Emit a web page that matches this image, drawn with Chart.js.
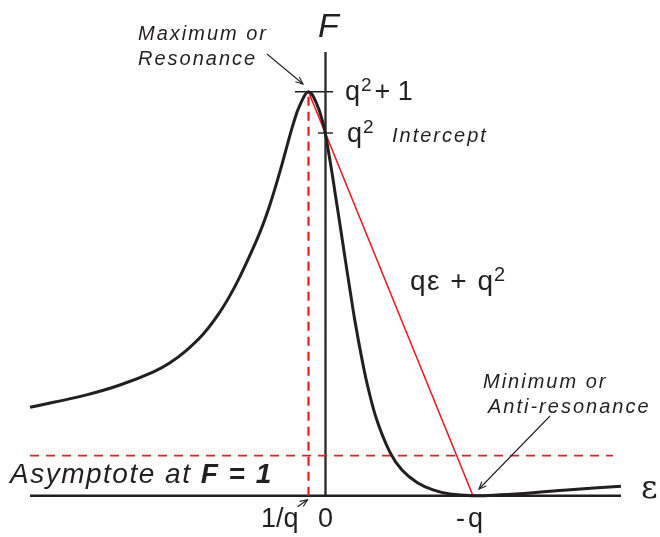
<!DOCTYPE html>
<html>
<head>
<meta charset="utf-8">
<script src="https://cdn.jsdelivr.net/npm/chart.js@4.4.1/dist/chart.umd.min.js"></script>
<style>
  body { margin: 0; background: #fff; }
  #wrap { width: 660px; height: 537px; position: relative; }
</style>
</head>
<body>
<div id="wrap"><canvas id="grafico"></canvas></div>
<script>
// Curva de Fano (eps, F)
const epsCurva = [-5.90, -5.43, -4.77, -4.10, -3.43, -3.10, -2.77, -2.43, -2.10, -1.83, -1.57, -1.30, -1.10,
                  -0.90, -0.77, -0.63, -0.50, -0.33, -0.17, -0.04, 0.02, 0.06, 0.14, 0.20, 0.30, 0.40, 0.50,
                  0.60, 0.74, 0.86, 1.04, 1.30, 1.54, 1.84, 2.16, 2.50, 2.96, 3.50, 4.16, 4.84, 5.92];
const fCurva = [2.14, 2.26, 2.44, 2.68, 3.00, 3.22, 3.52, 3.92, 4.45, 5.00, 5.64, 6.38, 7.05,
                7.85, 8.42, 9.02, 9.46, 9.78, 9.50, 9.02, 8.68, 8.40, 7.82, 7.34, 6.56, 5.76, 4.98,
                4.22, 3.30, 2.62, 1.82, 1.05, 0.62, 0.32, 0.14, 0.04, 0.00, 0.02, 0.07, 0.14, 0.23];

// Pontos notáveis
const epsMax = -0.33;      // 1/q
const epsMin = 2.96;       // -q
const fMax = 9.78;         // q^2 + 1
const fIntercept = 8.78;   // q^2
const fAssintota = 0.97;   // F = 1
const epsInicio = -5.90;
const epsFim = 5.92;
const fTopoEixo = 10.74;

// Rótulos do eixo x
const xTicks = [epsMax, 0, epsMin];
const xTickLabels = ['1/q', '0', '- q'];

const preto = '#231f20';
const vermelho = '#ed1c24';

const pontosCurva = epsCurva.map((e, i) => ({ x: e, y: fCurva[i] }));

// Textos e setas
const textos = {
    id: 'textos',
    afterDatasetsDraw(chart) {
        const ctx = chart.ctx;
        const xs = chart.scales.x;
        const ys = chart.scales.y;
        const fam = '"Liberation Sans", Arial, sans-serif';
        ctx.save();
        ctx.fillStyle = preto;
        ctx.strokeStyle = preto;
        ctx.textBaseline = 'alphabetic';
        ctx.textAlign = 'left';

        function texto(t, x, y, font, esp) {
            ctx.font = font;
            ctx.letterSpacing = (esp || 0) + 'px';
            ctx.fillText(t, x, y);
            const w = ctx.measureText(t).width;
            ctx.letterSpacing = '0px';
            return w;
        }
        function qQuadrado(x, y, size) {
            const w1 = texto('q', x, y, size + 'px ' + fam);
            const w2 = texto('2', x + w1 + 1, y - 9, Math.round(size * 0.72) + 'px ' + fam);
            return w1 + 1 + w2;
        }
        function seta(x1, y1, x2, y2) {
            ctx.lineWidth = 1.1;
            ctx.beginPath();
            ctx.moveTo(x1, y1);
            ctx.lineTo(x2, y2);
            ctx.stroke();
            const a = Math.atan2(y2 - y1, x2 - x1);
            const L = 8;
            ctx.beginPath();
            ctx.moveTo(x2 - L * Math.cos(a - 0.4), y2 - L * Math.sin(a - 0.4));
            ctx.lineTo(x2, y2);
            ctx.lineTo(x2 - L * Math.cos(a + 0.4), y2 - L * Math.sin(a + 0.4));
            ctx.stroke();
        }

        // F e epsilon
        texto('F', 318, 37, 'italic 34px ' + fam);
        texto('\u03B5', 641, 498, '32px "DejaVu Serif", serif');

        // q^2 + 1 e q^2 Intercept
        let w = qQuadrado(345, 100, 27);
        texto('+ 1', 345 + w + 3, 100, '27px ' + fam);
        qQuadrado(347, 142, 27);
        texto('Intercept', 392, 142, 'italic 20px ' + fam, 2);

        // q eps + q^2
        w = texto('q\u03B5 + ', 410, 290, '28px ' + fam, 1.5);
        qQuadrado(410 + w, 290, 28);

        // Máximo e mínimo
        texto('Maximum or', 138, 40, 'italic 20px ' + fam, 2);
        texto('Resonance', 138, 65, 'italic 20px ' + fam, 2);
        seta(267, 54, 303, 84);
        texto('Minimum or', 483, 388, 'italic 20px ' + fam, 2);
        texto('Anti-resonance', 488, 413, 'italic 20px ' + fam, 2);
        seta(550, 416, 479, 489);

        // Assíntota
        w = texto('Asymptote at ', 10, 483, 'italic 28px ' + fam, 1.5);
        texto('F = 1', 10 + w, 483, 'italic bold 28px ' + fam, 1.5);

        // Rótulos do eixo x
        ctx.font = '27px ' + fam;
        const base = ys.getPixelForValue(0) + 31;
        const x0 = xs.getPixelForValue(xTicks[0]);
        ctx.textAlign = 'right';
        ctx.fillText(xTickLabels[0], x0 - 10, base);
        ctx.textAlign = 'center';
        ctx.fillText(xTickLabels[1], xs.getPixelForValue(xTicks[1]) + 0.5, base);
        const partes = xTickLabels[2].split(' ');
        const x2 = xs.getPixelForValue(xTicks[2]);
        ctx.textAlign = 'left';
        ctx.fillText(partes[0], x2 - 17, base);
        ctx.fillText(partes[1], x2 - 5, base);
        seta(x0 - 11, base - 20, x0 - 1, base - 27);
        ctx.restore();
    }
};

const ctx = document.getElementById('grafico').getContext('2d');
new Chart(ctx, {
    type: 'line',
    data: {
        datasets: [
            {
                data: pontosCurva,
                borderColor: preto,
                borderWidth: 3,
                tension: 0.4,
                pointRadius: 0
            },
            {
                data: [{ x: epsMax, y: fMax }, { x: epsMin, y: 0 }],
                borderColor: vermelho,
                borderWidth: 1.6,
                pointRadius: 0
            },
            {
                data: [{ x: epsMax, y: 0 }, { x: epsMax, y: fMax }],
                borderColor: vermelho,
                borderWidth: 2.2,
                borderDash: [9, 6],
                pointRadius: 0
            },
            {
                data: [{ x: epsInicio, y: fAssintota }, { x: 5.76, y: fAssintota }],
                borderColor: vermelho,
                borderWidth: 1.6,
                borderDash: [9, 7],
                pointRadius: 0
            },
            {
                data: [{ x: epsInicio, y: 0 }, { x: epsFim, y: 0 }],
                borderColor: preto,
                borderWidth: 2.6,
                pointRadius: 0
            },
            {
                data: [{ x: 0.01, y: 0 }, { x: 0.01, y: fTopoEixo }],
                borderColor: '#2f2f2f',
                borderWidth: 2.4,
                pointRadius: 0
            },
            {
                data: [{ x: -0.60, y: fMax }, { x: 0.16, y: fMax }],
                borderColor: preto,
                borderWidth: 1.4,
                pointRadius: 0
            },
            {
                data: [{ x: -0.14, y: fIntercept }, { x: 0.16, y: fIntercept }],
                borderColor: preto,
                borderWidth: 1.4,
                pointRadius: 0
            }
        ]
    },
    options: {
        responsive: true,
        maintainAspectRatio: false,
        animation: false,
        layout: { padding: 0 },
        plugins: {
            legend: { display: false },
            tooltip: { enabled: false }
        },
        scales: {
            x: { type: 'linear', min: -6.5, max: 6.7, display: false },
            y: { type: 'linear', min: -1, max: 12, display: false }
        }
    },
    plugins: [textos]
});
</script>
</body>
</html>
